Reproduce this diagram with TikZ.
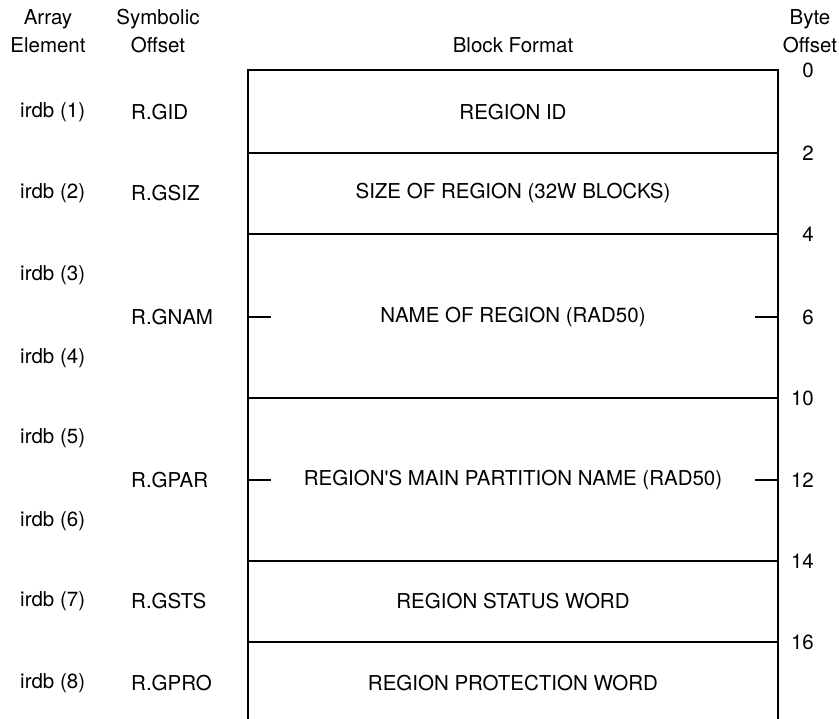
\documentclass[tikz,border=0pt]{standalone}
\usepackage{fontspec}
\setmainfont{TeX Gyre Heros}
\usetikzlibrary{calc,positioning}

\begin{document}
\begin{tikzpicture}[x=1pt,y=-1pt,%
    every node/.style={font=\fontsize{20.5}{28}\selectfont, inner sep=0pt}%
  ]
  % Region descriptor block

  %
  % Definitions
  %
  \tikzset{
    heading/.style={align=center},
    element/.style={anchor=west},
    symbol/.style={anchor=west},
    field/.style={anchor=center},
    offset/.style={anchor=east},
    wall/.style={line width=2.5pt},
    rule/.style={line width=2.4pt},
  }
  \pgfmathsetmacro{\xe}{20};%
  \pgfmathsetmacro{\xs}{131};%
  \pgfmathsetmacro{\xl}{248};%
  \pgfmathsetmacro{\xr}{778};%
  \pgfmathsetmacro{\xf}{0.5*(\xl+\xr)};%
  \pgfmathsetmacro{\xo}{814};%
  \pgfmathsetmacro{\tick}{23};%

  \pgfmathsetmacro{\yh}{31.5};%
  \pgfmathsetmacro{\ytop}{70};%
  \pgfmathsetmacro{\ybot}{719};%

  \useasboundingbox (0,0) rectangle (839,719);

  %
  % Drawing
  %
  % Headings
  \node[heading] (h-elem) at (48,\yh) {Array\\Element};
  \node[heading] (h-sym) at (158,\yh) {Symbolic\\Offset};
  \node[heading] (h-block) at (\xf,45) {Block Format};
  \node[heading] (h-byte) at (810,\yh) {Byte\\Offset};

  % Array elements
  \foreach \n/\y in {1/112, 2/193, 3/275, 4/358, 5/438, 6/521, 7/601, 8/683}
    \node[element] (irdb-\n) at (\xe,\y) {irdb (\n)};

  % Symbolic offsets
  \foreach \s/\y in {GID/112, GSIZ/193, GNAM/317, GPAR/480, GSTS/601, GPRO/683}
    \node[symbol] (sym-\s) at (\xs,\y) {R.\s};

  % Byte offsets
  \foreach \o/\y in {0/70, 2/153, 4/234, 6/317, 10/398, 12/480, 14/561, 16/642}
    \node[offset] (off-\o) at (\xo,\y) {\o};

  % Block outline
  \coordinate (top-l) at (\xl,\ytop);
  \coordinate (top-r) at (\xr,\ytop);
  \coordinate (bot-l) at (\xl,\ybot);
  \coordinate (bot-r) at (\xr,\ybot);
  \draw[wall] (bot-l) -- (top-l) -- (top-r) -- (bot-r);

  % Word boundaries
  \foreach \o/\y in {2/153, 4/234, 10/398, 14/561, 16/642} {
    \coordinate (div-l-\o) at (\xl,\y);
    \coordinate (div-r-\o) at (\xr,\y);
    \draw[rule] (div-l-\o) -- (div-r-\o);
  }

  % Ticks inside double words
  \foreach \o/\y in {6/317, 12/480} {
    \coordinate (tick-l-\o) at (\xl,\y);
    \coordinate (tick-li-\o) at (\xl+\tick,\y);
    \coordinate (tick-r-\o) at (\xr,\y);
    \coordinate (tick-ri-\o) at (\xr-\tick,\y);
    \draw[rule] (tick-l-\o) -- (tick-li-\o);
    \draw[rule] (tick-r-\o) -- (tick-ri-\o);
  }

  % Fields
  \node[field] (f-id) at (\xf,112) {REGION ID};
  \node[field] (f-size) at (\xf,193) {SIZE OF REGION (32W BLOCKS)};
  \node[field] (f-name) at (\xf,317) {NAME OF REGION (RAD50)};
  \node[field] (f-part) at (\xf,480) {REGION\textquotesingle S MAIN PARTITION NAME (RAD50)};
  \node[field] (f-sts) at (\xf,601) {REGION STATUS WORD};
  \node[field] (f-pro) at (\xf,683) {REGION PROTECTION WORD};

\end{tikzpicture}
\end{document}
